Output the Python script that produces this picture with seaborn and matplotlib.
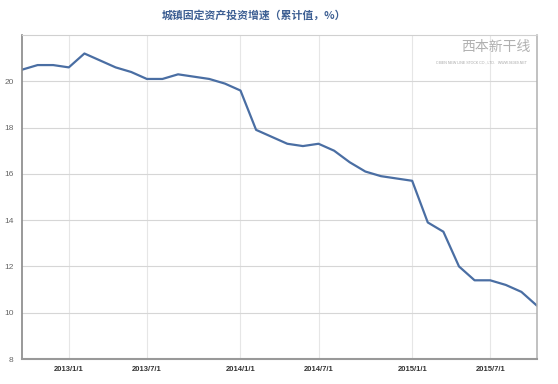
import matplotlib
matplotlib.use("Agg")
import matplotlib.pyplot as plt
import seaborn as sns
import pandas as pd

# ---- data ----
dates = [
    "2012/10/1", "2012/11/1", "2012/12/1", "2013/1/1",
    "2013/3/1", "2013/4/1", "2013/5/1", "2013/6/1", "2013/7/1", "2013/8/1",
    "2013/9/1", "2013/10/1", "2013/11/1", "2013/12/1", "2014/1/1",
    "2014/3/1", "2014/4/1", "2014/5/1", "2014/6/1", "2014/7/1", "2014/8/1",
    "2014/9/1", "2014/10/1", "2014/11/1", "2014/12/1", "2015/1/1",
    "2015/3/1", "2015/4/1", "2015/5/1", "2015/6/1", "2015/7/1", "2015/8/1",
    "2015/9/1", "2015/10/1",
]
growth = [
    20.5, 20.7, 20.7, 20.6,
    21.2, 20.9, 20.6, 20.4, 20.1, 20.1, 20.3, 20.2, 20.1, 19.9, 19.6,
    17.9, 17.6, 17.3, 17.2, 17.3, 17.0, 16.5, 16.1, 15.9, 15.8, 15.7,
    13.9, 13.5, 12.0, 11.4, 11.4, 11.2, 10.9, 10.3,
]
tick_labels = ["2013/1/1", "2013/7/1", "2014/1/1", "2014/7/1", "2015/1/1", "2015/7/1"]
y_ticks = [8, 10, 12, 14, 16, 18, 20]
title = "城镇固定资产投资增速（累计值，%）"

df = pd.DataFrame({"pos": range(len(dates)), "date": dates, "value": growth})

sns.set_style("white")
plt.rcParams["font.family"] = ["Liberation Sans", "Noto Sans CJK SC", "DejaVu Sans"]

fig = plt.figure(figsize=(5.58, 3.84), dpi=100)
ax = fig.add_axes([0.0394, 0.0651, 0.923, 0.8438])

sns.lineplot(data=df, x="pos", y="value", ax=ax, color="#4a6ea3", linewidth=1.6)

ax.set_xlim(0, len(dates) - 1)
ax.set_ylim(8, 22)
ax.set_xticks([dates.index(t) for t in tick_labels])
ax.set_xticklabels(tick_labels, fontsize=5.5, fontweight="bold", color="#333333")
ax.set_yticks(y_ticks)
ax.set_yticklabels([str(v) for v in y_ticks], fontsize=6, color="#666666")
ax.tick_params(axis="x", length=0, pad=5)
ax.tick_params(axis="y", length=0, pad=6)
ax.set_xlabel("")
ax.set_ylabel("")

ax.yaxis.grid(True, color="#d6d6d6", linewidth=0.8)
ax.xaxis.grid(True, color="#e6e6e6", linewidth=0.8)
ax.set_axisbelow(True)

for side, col, lw in [("left", "#888888", 1.2), ("bottom", "#999999", 1.5),
                      ("top", "#d0d0d0", 0.8), ("right", "#b0b0b0", 1.1)]:
    ax.spines[side].set_visible(True)
    ax.spines[side].set_color(col)
    ax.spines[side].set_linewidth(lw)

fig.text(0.455, 0.96, title, ha="center", va="center", fontsize=7.8,
         fontweight="bold", color="#3d5f93", family=["Noto Sans CJK SC", "DejaVu Sans"])

# watermark
fig.text(0.888, 0.877, "西本新干线", ha="center", va="center", fontsize=10,
         color="#b0b0b0", family=["Noto Sans CJK SC", "DejaVu Sans"])
fig.text(0.862, 0.836, "CIBEN NEW LINE STOCK CO., LTD.   WWW.96369.NET", ha="center",
         va="center", fontsize=2.6, color="#a8a8a8")

fig.savefig("out.png", dpi=100, facecolor="white")
